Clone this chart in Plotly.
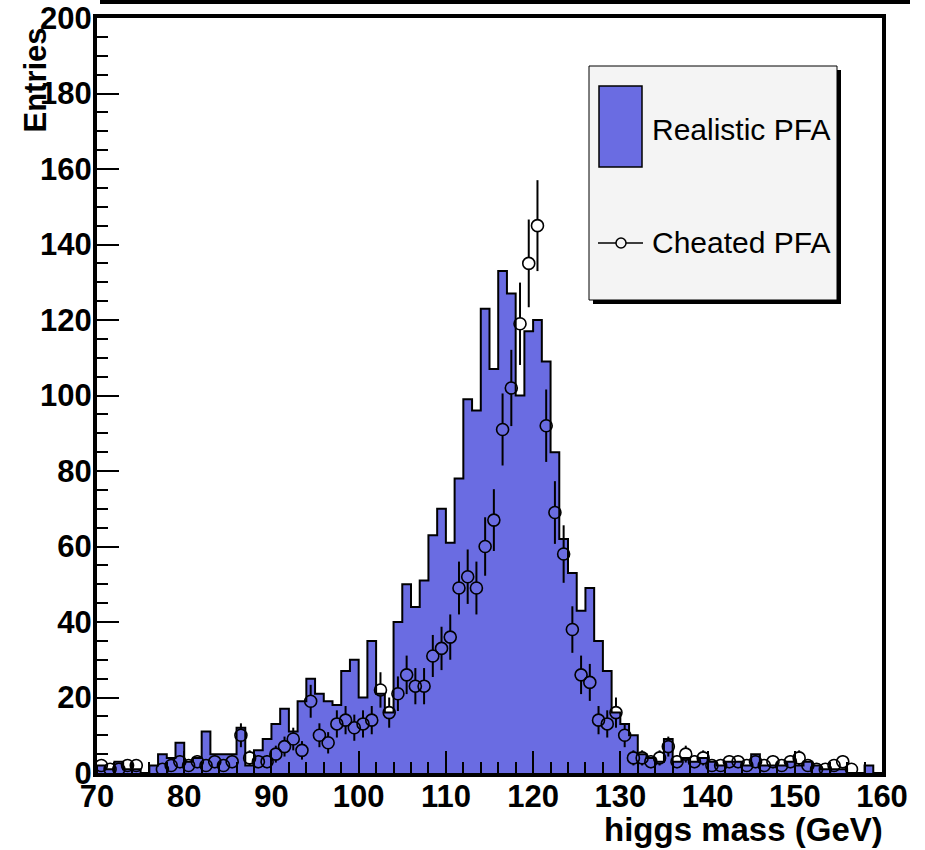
import math
import plotly.graph_objects as go

# ---------------- data ----------------
bin_edges = list(range(70, 161))          # 1 GeV bins, 70..160
realistic = [
    2, 1, 3, 1, 1, 0, 2, 5, 4, 8,
    3, 4, 11, 5, 5, 5, 12, 2, 6, 9,
    13, 17, 11, 19, 25, 21, 19, 18, 27, 30,
    20, 35, 21, 16, 40, 50, 44, 51, 63, 70,
    61, 78, 99, 96, 123, 107, 133, 127, 100, 117,
    120, 109, 85, 62, 53, 43, 49, 35, 27, 16,
    13, 10, 5, 4, 3, 9, 3, 4, 3, 4,
    3, 2, 3, 3, 2, 5, 2, 2, 2, 3,
    2, 3, 2, 1, 1, 1, 0, 0, 2, 0,
]
cheated = [
    2, 1, 1, 2, 2, 0, 0, 1, 2, 3,
    2, 3, 2, 3, 2, 3, 10, 4, 3, 3,
    5, 7, 9, 6, 19, 10, 8, 13, 14, 12,
    13, 14, 22, 16, 21, 26, 23, 23, 31, 33,
    36, 49, 52, 49, 60, 67, 91, 102, 119, 135,
    145, 92, 69, 58, 38, 26, 24, 14, 13, 16,
    10, 4, 4, 3, 4, 7, 3, 5, 3, 4,
    2, 2, 3, 3, 2, 3, 2, 3, 2, 3,
    4, 2, 1, 1, 2, 3, 1, 0, 0, 0,
]
x_tick_step = 10
y_tick_step = 20
x_range = [70, 160]
y_range = [0, 200]

BLUE = "rgb(106,108,226)"
FONT = "Liberation Sans"

# ---------------- geometry helpers (pixel -> paper) ----------------
W, H = 925, 850
L, R, T, B = 97, 43, 18, 77
PW, PH = W - L - R, H - T - B


def px(x):
    return (x - L) / PW


def py(y):
    return (H - B - y) / PH


# ---------------- traces ----------------
centers = [e + 0.5 for e in bin_edges[:-1]]

step_x = [bin_edges[0]] + bin_edges[:-1] + [bin_edges[-1], bin_edges[-1]]
step_y = [0] + realistic + [realistic[-1], 0]

hist = go.Scatter(
    x=step_x, y=step_y, mode="lines", line_shape="hv",
    line=dict(color="black", width=2), fill="tozeroy", fillcolor=BLUE,
    showlegend=False, hoverinfo="skip",
)

# error bars drawn outside the marker (ROOT style)
marker_r = 5.5 * (y_range[1] - y_range[0]) / PH
ex, ey = [], []
px_pts, py_pts = [], []
for c, v in zip(centers, cheated):
    if v <= 0:
        continue
    px_pts.append(c)
    py_pts.append(v)
    err = math.sqrt(v)
    if err > marker_r:
        ex += [c, c, None, c, c, None]
        ey += [v + marker_r, v + err, None, v - marker_r, max(v - err, 0), None]

errs = go.Scatter(x=ex, y=ey, mode="lines", line=dict(color="black", width=2),
                  showlegend=False, hoverinfo="skip")
pts = go.Scatter(
    x=px_pts, y=py_pts, mode="markers",
    marker=dict(symbol="circle-open", size=12, color="black", line=dict(width=1.6)),
    showlegend=False,
)

fig = go.Figure([hist, errs, pts])

tickfont = dict(family=FONT, size=31, color="black", weight="bold")

fig.update_layout(
    width=W, height=H,
    margin=dict(l=L, r=R, t=T, b=B, autoexpand=False),
    paper_bgcolor="white", plot_bgcolor="white",
    showlegend=False,
    xaxis=dict(
        range=x_range, tick0=x_range[0], dtick=x_tick_step, automargin=False,
        ticks="inside", ticklen=22, tickwidth=2, tickcolor="black",
        showline=True, linewidth=4, linecolor="black", mirror=True,
        showgrid=False, zeroline=False, tickfont=tickfont, ticklabelstandoff=-7,
        minor=dict(dtick=2, ticks="inside", ticklen=11, tickwidth=1.5,
                   tickcolor="black", showgrid=False),
    ),
    yaxis=dict(
        range=y_range, tick0=0, dtick=y_tick_step, automargin=False,
        ticks="inside", ticklen=22, tickwidth=2, tickcolor="black",
        showline=True, linewidth=4, linecolor="black", mirror=True,
        showgrid=False, zeroline=False, tickfont=tickfont, ticklabelstandoff=-5,
        minor=dict(dtick=5, ticks="inside", ticklen=11, tickwidth=1.5,
                   tickcolor="black", showgrid=False),
    ),
)

shapes = [
    # top rule of the page
    dict(type="line", xref="paper", yref="paper", x0=px(100), x1=px(910),
         y0=py(2), y1=py(2), line=dict(color="black", width=4)),
    # legend shadow
    dict(type="rect", xref="paper", yref="paper", x0=px(593), x1=px(841),
         y0=py(304), y1=py(70), fillcolor="black", line=dict(width=0)),
    # legend box
    dict(type="rect", xref="paper", yref="paper", x0=px(589), x1=px(837),
         y0=py(300), y1=py(66), fillcolor="#f4f4f4", line=dict(color="black", width=1)),
    # legend blue swatch
    dict(type="rect", xref="paper", yref="paper", x0=px(599), x1=px(642),
         y0=py(167), y1=py(86), fillcolor=BLUE, line=dict(color="black", width=1.5)),
    # legend line sample
    dict(type="line", xref="paper", yref="paper", x0=px(598), x1=px(643),
         y0=py(243), y1=py(243), line=dict(color="black", width=1.5)),
    dict(type="circle", xref="paper", yref="paper", x0=px(616), x1=px(626),
         y0=py(248), y1=py(238), fillcolor="#f4f4f4", line=dict(color="black", width=1.5)),
]
fig.update_layout(shapes=shapes)

annotations = [
    dict(text="Realistic PFA", xref="paper", yref="paper", x=px(650), y=py(130),
         xanchor="left", yanchor="middle", showarrow=False,
         font=dict(family=FONT, size=30, color="black")),
    dict(text="Cheated PFA", xref="paper", yref="paper", x=px(650), y=py(243),
         xanchor="left", yanchor="middle", showarrow=False,
         font=dict(family=FONT, size=30, color="black")),
    dict(text="higgs mass (GeV)", xref="paper", yref="paper", x=px(885), y=py(829),
         xanchor="right", yanchor="middle", showarrow=False,
         font=dict(family=FONT, size=33, color="black", weight="bold")),
    dict(text="Entries", xref="paper", yref="paper", x=px(35), y=py(26),
         xanchor="center", yanchor="top", textangle=-90, showarrow=False,
         font=dict(family=FONT, size=31, color="black", weight="bold")),
]
fig.update_layout(annotations=annotations)

fig.write_html("out.html")
